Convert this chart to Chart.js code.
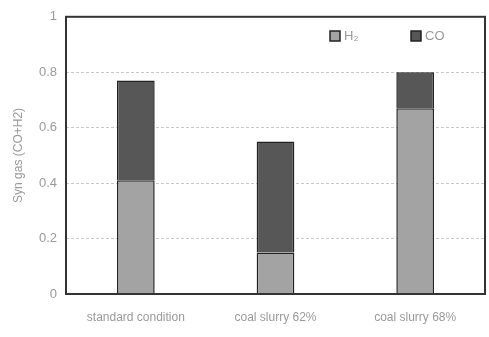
<!DOCTYPE html>
<html>
<head>
<meta charset="utf-8">
<script src="https://cdn.jsdelivr.net/npm/chart.js@4/dist/chart.umd.min.js"></script>
<style>
  html, body { margin: 0; padding: 0; background: #fff; }
  #wrap { width: 489px; height: 337px; }
</style>
</head>
<body>
<div id="wrap"><canvas id="Chart" width="489" height="337"></canvas></div>
<script>
// chart values
const categories = ['standard condition', 'coal slurry 62%', 'coal slurry 68%'];
const h2Values = [0.41, 0.15, 0.67];
const coValues = [0.36, 0.40, 0.13];
const yTicks = [0, 0.2, 0.4, 0.6, 0.8, 1];
const seriesNames = ['H\u2082', 'CO'];

const fontFamily = '"Liberation Sans", Arial, sans-serif';

// frame around the plot + legend inside it
const framePlugin = {
  id: 'frame',
  afterDraw(chart) {
    const c = chart.ctx;
    const a = chart.chartArea;
    c.save();
    c.strokeStyle = '#333';
    c.lineWidth = 2;
    c.strokeRect(a.left, a.top, a.right - a.left, a.bottom - a.top);

    // legend
    const items = chart.data.datasets;
    const xs = [330, 411];
    items.forEach((ds, i) => {
      c.fillStyle = ds.backgroundColor;
      c.fillRect(xs[i], 31, 10, 10);
      c.strokeStyle = '#222';
      c.lineWidth = 1.5;
      c.strokeRect(xs[i], 31, 10, 10);
      c.fillStyle = '#999';
      c.font = '13px ' + fontFamily;
      c.textBaseline = 'middle';
      c.fillText(ds.label, xs[i] + 14, 36.5);
    });
    c.restore();
  }
};

const ctx = document.getElementById('Chart').getContext('2d');
new Chart(ctx, {
  type: 'bar',
  data: {
    labels: categories,
    datasets: [
      {
        label: seriesNames[0],
        data: h2Values,
        backgroundColor: '#a3a3a3',
        borderColor: '#222',
        borderWidth: 1.5,
        barPercentage: 0.27,
        categoryPercentage: 1,
      },
      {
        label: seriesNames[1],
        data: coValues,
        backgroundColor: '#575757',
        borderColor: '#222',
        borderWidth: 1.5,
        barPercentage: 0.27,
        categoryPercentage: 1,
      },
    ],
  },
  options: {
    responsive: false,
    animation: false,
    layout: { padding: { top: 10, right: 4, left: 0, bottom: 0 } },
    plugins: {
      legend: { display: false },
      tooltip: { enabled: false },
    },
    scales: {
      x: {
        stacked: true,
        grid: { display: false, drawTicks: false },
        border: { display: false },
        ticks: {
          color: '#999',
          font: { family: fontFamily, size: 12 },
          padding: 16,
          maxRotation: 0,
        },
        afterFit: (s) => { s.height = 43; },
      },
      y: {
        stacked: true,
        min: 0,
        max: 1,
        afterBuildTicks: (s) => { s.ticks = yTicks.map(v => ({ value: v })); },
        grid: {
          color: '#c8c8c8',
          lineWidth: 1,
          drawTicks: false,
        },
        border: { display: false, dash: [3, 2] },
        ticks: {
          color: '#999',
          font: { family: fontFamily, size: 13 },
          padding: 9,
          callback: (v) => String(v),
        },
        title: {
          display: true,
          text: 'Syn gas (CO+H2)',
          color: '#999',
          font: { family: fontFamily, size: 12 },
          padding: { top: 11, bottom: 0 },
        },
        afterFit: (s) => { s.width = 66; },
      },
    },
  },
  plugins: [framePlugin],
});
</script>
</body>
</html>
